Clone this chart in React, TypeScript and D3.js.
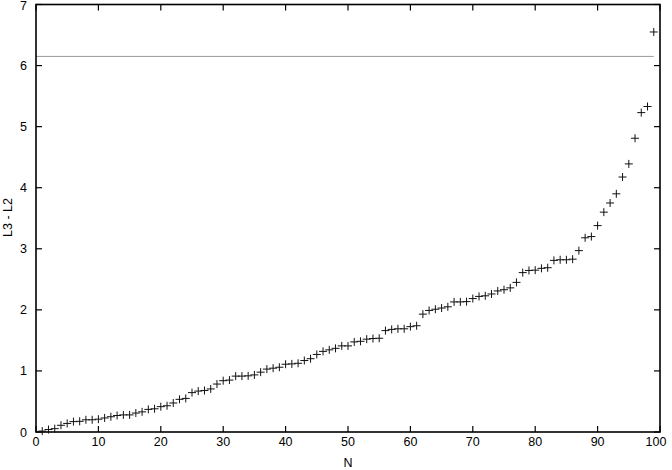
import React from "react";
import * as d3 from "d3";

const nValues: number[] = d3.range(1, 100);
const diffValues: number[] = [
  0.015, 0.04, 0.055, 0.11, 0.14, 0.17, 0.175, 0.2, 0.2, 0.21,
  0.23, 0.25, 0.27, 0.28, 0.28, 0.31, 0.33, 0.37, 0.38, 0.415,
  0.43, 0.475, 0.535, 0.55, 0.645, 0.67, 0.68, 0.705, 0.785, 0.84,
  0.85, 0.915, 0.915, 0.92, 0.935, 0.98, 1.03, 1.045, 1.06, 1.11,
  1.115, 1.125, 1.17, 1.2, 1.27, 1.32, 1.345, 1.37, 1.41, 1.41,
  1.475, 1.485, 1.52, 1.53, 1.535, 1.66, 1.68, 1.69, 1.69, 1.725,
  1.74, 1.93, 1.99, 2.01, 2.03, 2.05, 2.13, 2.13, 2.135, 2.185,
  2.22, 2.23, 2.26, 2.31, 2.33, 2.36, 2.45, 2.61, 2.645, 2.65,
  2.68, 2.69, 2.81, 2.82, 2.82, 2.83, 2.97, 3.18, 3.2, 3.38,
  3.6, 3.75, 3.9, 4.175, 4.39, 4.81, 5.23, 5.33, 6.55,
];
const refLineValue = 6.15;
const refLineRange: [number, number] = [0, 99];
const xTicks: number[] = [0, 10, 20, 30, 40, 50, 60, 70, 80, 90, 100];
const yTicks: number[] = [0, 1, 2, 3, 4, 5, 6, 7];
const xLabel = "N";
const yLabel = "L3 - L2";

const W = 672;
const H = 470;
const left = 36;
const right = 660;
const top = 4.5;
const bottom = 432;
const font = "'Liberation Sans', Arial, Helvetica, sans-serif";

export default function App() {
  const x = d3.scaleLinear().domain([0, 100]).range([left, right]);
  const y = d3.scaleLinear().domain([0, 7]).range([bottom, top]);
  const tickLen = 6;
  const marks = nValues
    .map((n, i) => {
      const px = x(n);
      const py = y(diffValues[i]);
      return `M${px - 4},${py}h8M${px},${py - 4}v8`;
    })
    .join("");
  return (
    <svg
      width={W}
      height={H}
      style={{ position: "absolute", left: 0, top: 0, background: "#fff" }}
    >
      <rect x={0} y={0} width={W} height={H} fill="#fff" />
      {/* reference line */}
      <line
        x1={x(refLineRange[0])}
        x2={x(refLineRange[1])}
        y1={y(refLineValue)}
        y2={y(refLineValue)}
        stroke="#9a9a9a"
        strokeWidth={1}
      />
      {/* ticks */}
      {xTicks.map((t) => (
        <g key={"xt" + t}>
          <line x1={x(t)} x2={x(t)} y1={bottom} y2={bottom - tickLen} stroke="#000" strokeWidth={1.2} />
          <line x1={x(t)} x2={x(t)} y1={top} y2={top + tickLen} stroke="#000" strokeWidth={1.2} />
          <text
            x={t === 100 ? x(t) - 4 : x(t)}
            y={446}
            textAnchor="middle"
            fontFamily={font}
            fontSize={12.5}
            fill="#000"
          >
            {t}
          </text>
        </g>
      ))}
      {yTicks.map((t) => (
        <g key={"yt" + t}>
          <line x1={left} x2={left + tickLen} y1={y(t)} y2={y(t)} stroke="#000" strokeWidth={1.2} />
          <line x1={right} x2={right - tickLen} y1={y(t)} y2={y(t)} stroke="#000" strokeWidth={1.2} />
          <text
            x={27}
            y={Math.max(y(t) + 4.5, 10)}
            textAnchor="end"
            fontFamily={font}
            fontSize={12.5}
            fill="#000"
          >
            {t}
          </text>
        </g>
      ))}
      {/* frame */}
      <rect
        x={left}
        y={top}
        width={right - left}
        height={bottom - top}
        fill="none"
        stroke="#000"
        strokeWidth={1.6}
      />
      {/* data points */}
      <path d={marks} stroke="#111" strokeWidth={1} fill="none" />
      {/* axis labels */}
      <text x={348} y={467} textAnchor="middle" fontFamily={font} fontSize={12.5} fill="#000">
        {xLabel}
      </text>
      <text
        transform={`translate(12,217.5) rotate(-90)`}
        textAnchor="middle"
        fontFamily={font}
        fontSize={12.5}
        fill="#000"
      >
        {yLabel}
      </text>
    </svg>
  );
}
